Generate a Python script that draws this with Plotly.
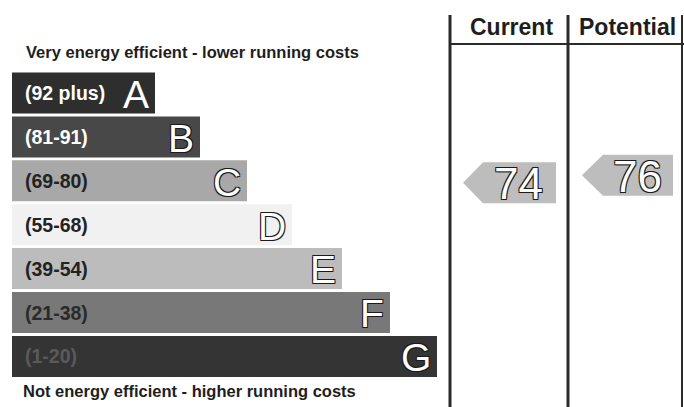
import plotly.graph_objects as go

# ---- data ----
bands = ["A", "B", "C", "D", "E", "F", "G"]
band_ranges = ["(92 plus)", "(81-91)", "(69-80)", "(55-68)", "(39-54)", "(21-38)", "(1-20)"]
band_lo = [92, 81, 69, 55, 39, 21, 1]
band_hi = [100, 91, 80, 68, 54, 38, 20]
bar_lengths = [143, 188, 235, 280, 330, 378, 425]
bar_colors = ["#2e2e2e", "#484848", "#a8a8a8", "#f1f1f1", "#bcbcbc", "#787878", "#343434"]
label_colors = ["#ffffff", "#ffffff", "#222222", "#222222", "#222222", "#2a2a2a", "#5a5a5a"]
columns = ["Current", "Potential"]
ratings = [74, 76]

# ---- layout constants ----
W, H = 684, 407
pitch = 43.9
first_center = 93.0
bar_base = 12
col_left = [450, 568]
col_right = [568, 682]
arrow_tip = [463, 582]
arrow_body = [483, 603]
arrow_right = [556, 673]

y_top = -first_center / pitch
y_bot = (H - first_center) / pitch

fig = go.Figure()

idx = list(range(len(bands)))
fig.add_trace(go.Bar(
    orientation="h", y=idx, x=bar_lengths, base=bar_base,
    marker=dict(color=bar_colors, line=dict(width=0)), width=0.934,
    hoverinfo="skip", showlegend=False,
))

outline = "-1px -1px 0 #1a1a1a, 1px -1px 0 #1a1a1a, -1px 1px 0 #1a1a1a, 1px 1px 0 #1a1a1a"
ann = []
for i, (b, r, L, lc) in enumerate(zip(bands, band_ranges, bar_lengths, label_colors)):
    ann.append(dict(x=bar_base + 11, y=i, xref="x", yref="y", text=r, showarrow=False,
                    xanchor="left", yanchor="middle",
                    font=dict(family="Liberation Sans", size=19.5, color=lc, weight="bold")))
    ann.append(dict(x=bar_base + L - 4, y=i + 0.03, xref="x", yref="y", text=b, showarrow=False,
                    xanchor="right", yanchor="middle",
                    font=dict(family="Liberation Sans", size=39, color="#ffffff",
                              shadow="none" if i == 0 else outline)))

# rating arrows
for k, r in enumerate(ratings):
    ci = 0
    for j in range(len(bands)):
        if band_lo[j] <= r <= band_hi[j]:
            ci = j
    mid = (band_lo[ci] + band_hi[ci]) / 2
    yc = ci + (mid - r) / (band_hi[ci] - band_lo[ci] + 1)
    h = 0.467
    xs = [arrow_tip[k], arrow_body[k], arrow_right[k], arrow_right[k], arrow_body[k], arrow_tip[k]]
    ys = [yc, yc - h, yc - h, yc + h, yc + h, yc]
    fig.add_trace(go.Scatter(x=xs, y=ys, fill="toself", fillcolor="#bdbdbd", mode="lines",
                             line=dict(width=0, color="#bdbdbd"), hoverinfo="skip", showlegend=False))
    ann.append(dict(x=(arrow_body[k] + arrow_right[k]) / 2 - 1, y=yc + 0.02, xref="x", yref="y",
                    text=str(r), showarrow=False, xanchor="center", yanchor="middle",
                    font=dict(family="Liberation Sans", size=44, color="#ffffff", shadow=outline)))
    ann.append(dict(x=(col_left[k] + col_right[k]) / 2 + 2, y=(H - 27) / H, xref="x", yref="paper",
                    text=columns[k], showarrow=False, xanchor="center", yanchor="middle",
                    font=dict(family="Liberation Sans", size=23, color="#1e1e1e", weight="bold")))

ann.append(dict(x=24, y=(H - 52) / H, xref="x", yref="paper", text="Very energy efficient - lower running costs",
                showarrow=False, xanchor="left", yanchor="middle",
                font=dict(family="Liberation Sans", size=16.5, color="#1e1e1e", weight="bold")))
ann.append(dict(x=21, y=(H - 391) / H, xref="x", yref="paper", text="Not energy efficient - higher running costs",
                showarrow=False, xanchor="left", yanchor="middle",
                font=dict(family="Liberation Sans", size=16.5, color="#1e1e1e", weight="bold")))

shapes = [
    dict(type="line", xref="x", yref="paper", x0=450, x1=450, y0=0, y1=(H - 15) / H, line=dict(color="#2a2a2a", width=3)),
    dict(type="line", xref="x", yref="paper", x0=568, x1=568, y0=0, y1=(H - 15) / H, line=dict(color="#2a2a2a", width=3)),
    dict(type="line", xref="x", yref="paper", x0=682, x1=682, y0=0, y1=(H - 15) / H, line=dict(color="#2a2a2a", width=2)),
    dict(type="line", xref="x", yref="paper", x0=450, x1=684, y0=(H - 44) / H, y1=(H - 44) / H, line=dict(color="#2a2a2a", width=2)),
]

fig.update_layout(
    width=W, height=H, margin=dict(l=0, r=0, t=0, b=0),
    paper_bgcolor="white", plot_bgcolor="white",
    xaxis=dict(range=[0, W], visible=False, fixedrange=True),
    yaxis=dict(range=[y_bot, y_top], visible=False, fixedrange=True),
    annotations=ann, shapes=shapes, showlegend=False,
)

fig.write_html("out.html", config={"displayModeBar": False},
               post_script="document.body.style.margin='0';document.body.style.overflow='hidden';")
